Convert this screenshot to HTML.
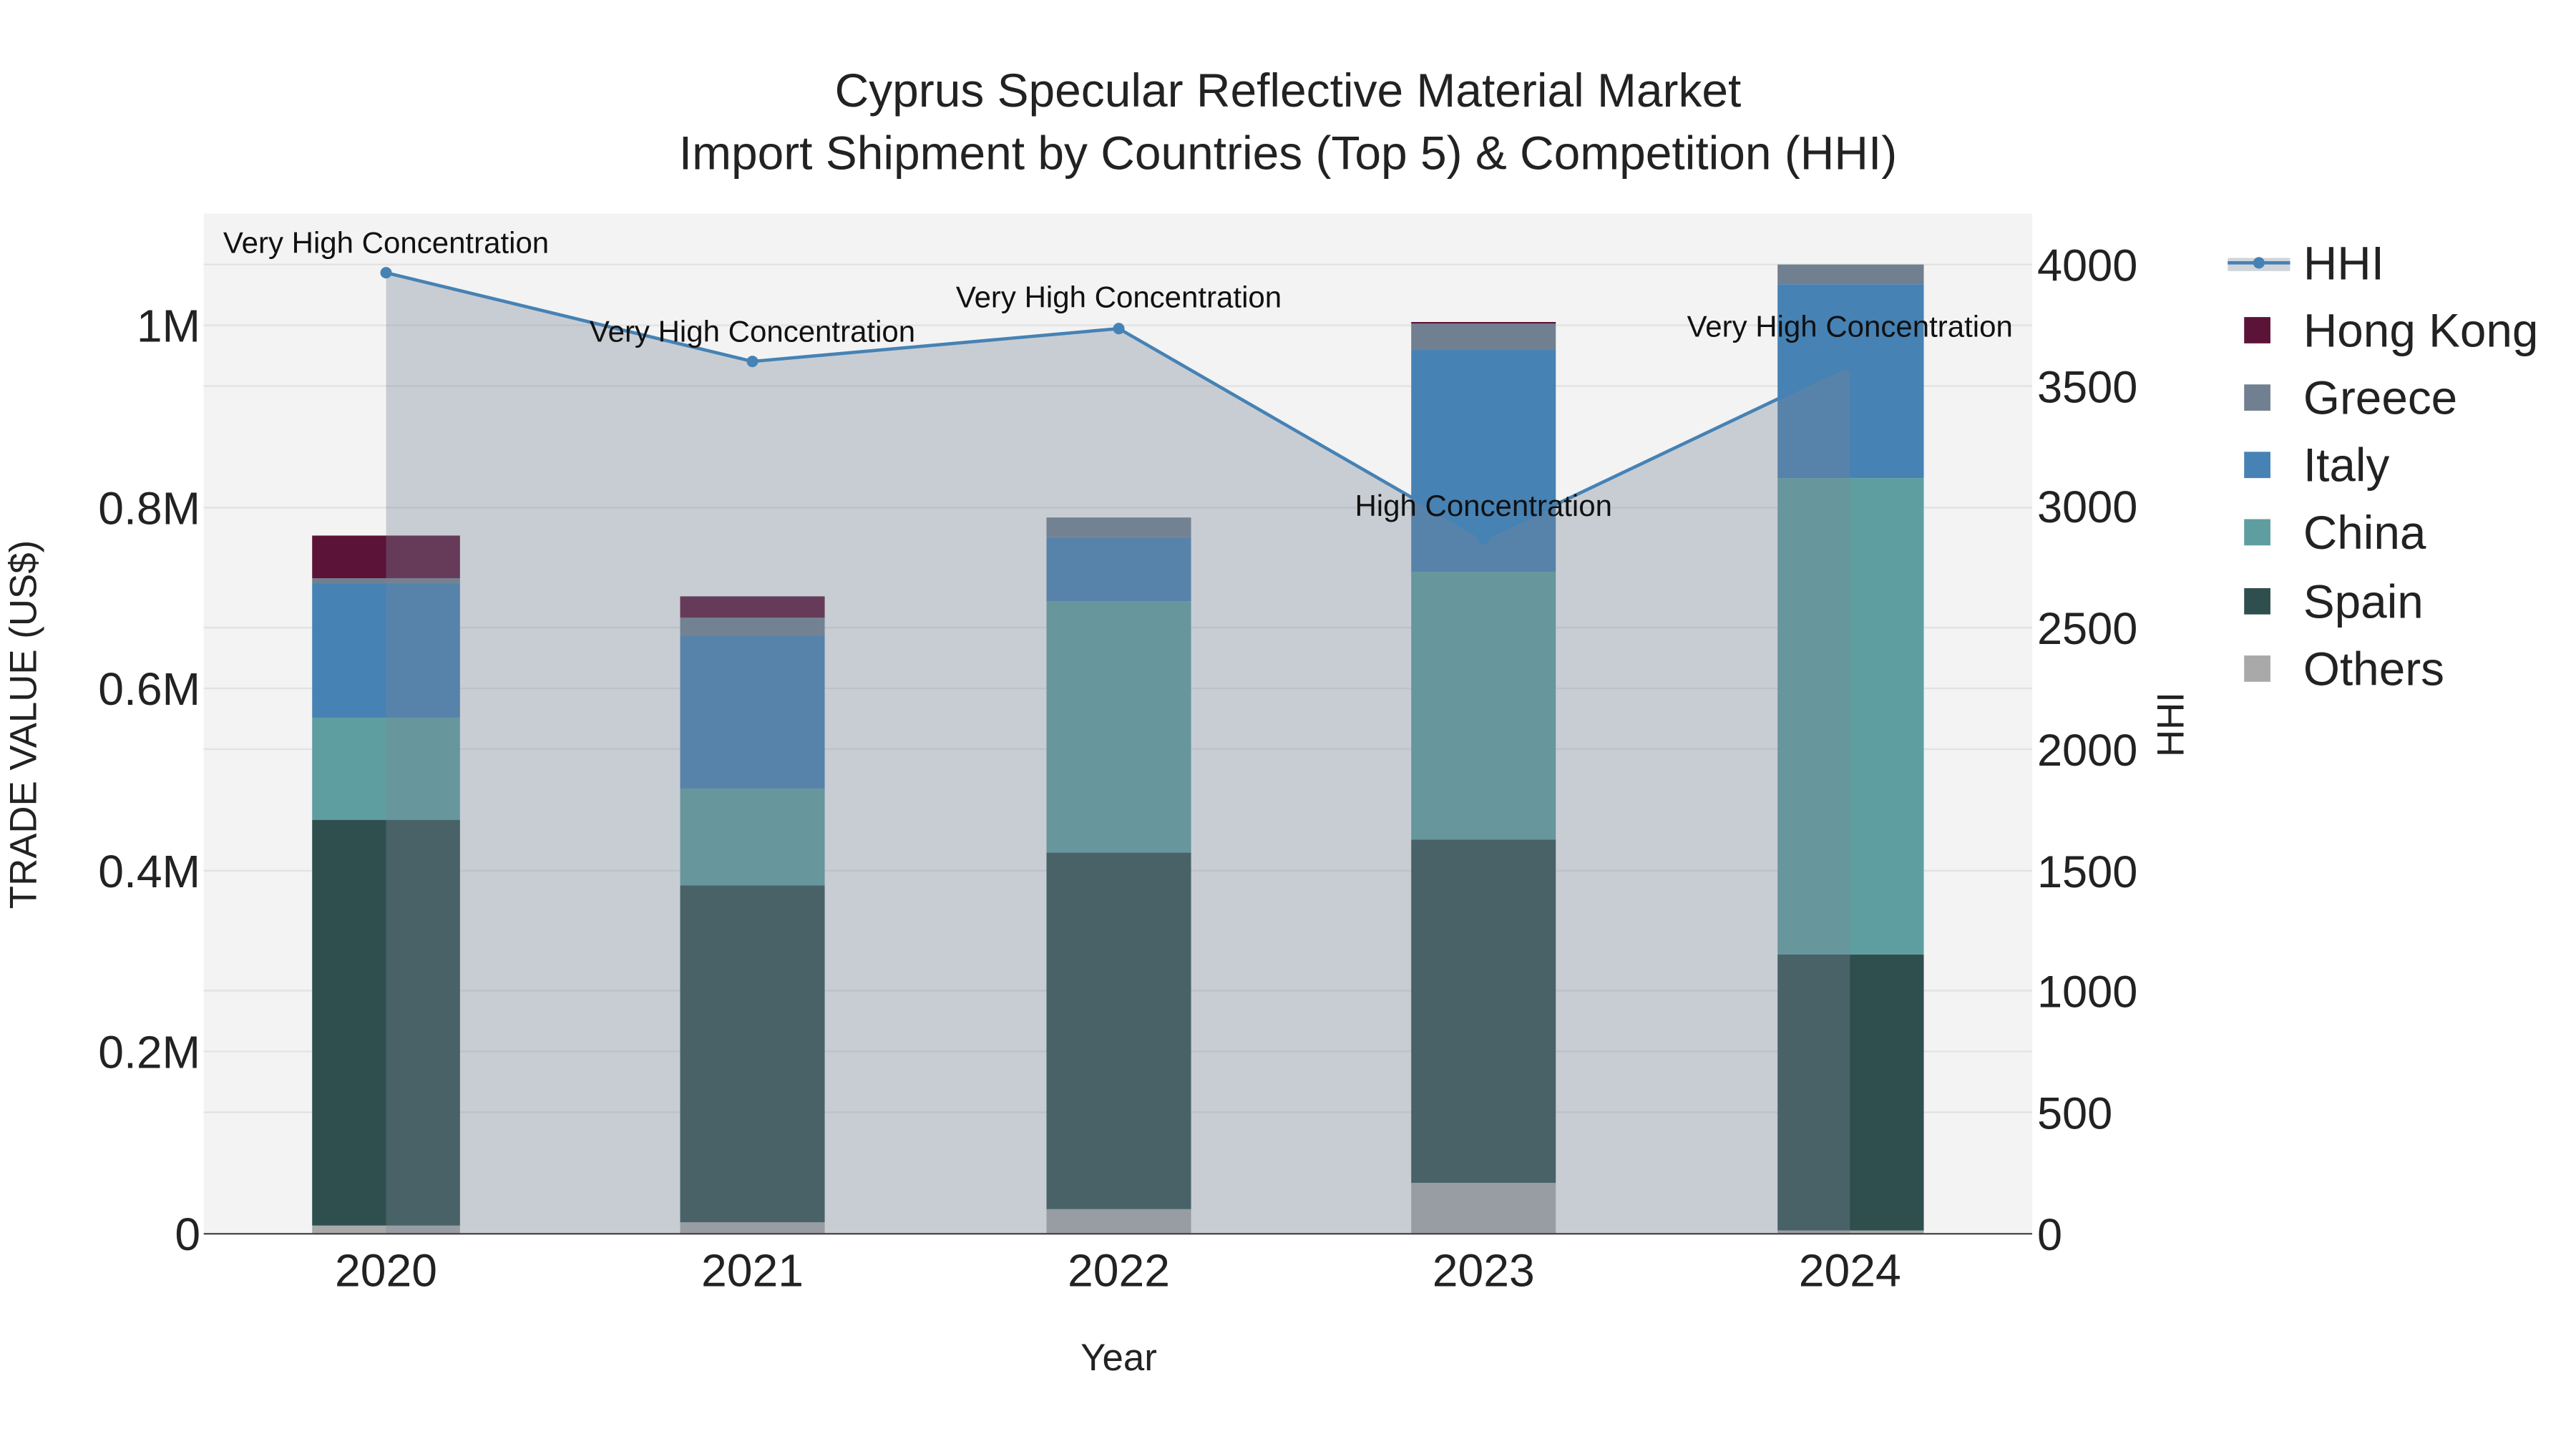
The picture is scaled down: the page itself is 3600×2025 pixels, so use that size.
<!DOCTYPE html>
<html><head><meta charset="utf-8"><style>html,body{margin:0;padding:0;background:#fff}svg{display:block}</style></head>
<body>
<svg width="3600" height="2025" viewBox="0 0 1568 882" xmlns="http://www.w3.org/2000/svg" font-family="Liberation Sans, sans-serif">
<rect width="1568" height="882" fill="#fff"/>
<rect x="124" y="130" width="1113" height="621" fill="#f3f3f3"/>
<g stroke="#e2e2e2" stroke-width="1">
<line x1="124" x2="1237" y1="640" y2="640"/><line x1="124" x2="1237" y1="530" y2="530"/><line x1="124" x2="1237" y1="419" y2="419"/><line x1="124" x2="1237" y1="309" y2="309"/><line x1="124" x2="1237" y1="198" y2="198"/>
<line x1="124" x2="1237" y1="677" y2="677"/><line x1="124" x2="1237" y1="603" y2="603"/><line x1="124" x2="1237" y1="456" y2="456"/><line x1="124" x2="1237" y1="382" y2="382"/><line x1="124" x2="1237" y1="235" y2="235"/><line x1="124" x2="1237" y1="161" y2="161"/>
</g>
<g>
<rect x="190" y="746" width="90" height="5" fill="#a9a9a9"/><rect x="190" y="499" width="90" height="247" fill="#2f4f4f"/><rect x="190" y="437" width="90" height="62" fill="#5f9ea0"/><rect x="190" y="355" width="90" height="82" fill="#4682b4"/><rect x="190" y="352" width="90" height="3" fill="#708090"/><rect x="190" y="326" width="90" height="26" fill="#5c1338"/>
<rect x="414" y="744" width="88" height="7" fill="#a9a9a9"/><rect x="414" y="539" width="88" height="205" fill="#2f4f4f"/><rect x="414" y="480" width="88" height="59" fill="#5f9ea0"/><rect x="414" y="387" width="88" height="93" fill="#4682b4"/><rect x="414" y="376" width="88" height="11" fill="#708090"/><rect x="414" y="363" width="88" height="13" fill="#5c1338"/>
<rect x="637" y="736" width="88" height="15" fill="#a9a9a9"/><rect x="637" y="519" width="88" height="217" fill="#2f4f4f"/><rect x="637" y="366" width="88" height="153" fill="#5f9ea0"/><rect x="637" y="327" width="88" height="39" fill="#4682b4"/><rect x="637" y="315" width="88" height="12" fill="#708090"/>
<rect x="859" y="720" width="88" height="31" fill="#a9a9a9"/><rect x="859" y="511" width="88" height="209" fill="#2f4f4f"/><rect x="859" y="348" width="88" height="163" fill="#5f9ea0"/><rect x="859" y="213" width="88" height="135" fill="#4682b4"/><rect x="859" y="197" width="88" height="16" fill="#708090"/><rect x="859" y="196" width="88" height="1" fill="#5c1338"/>
<rect x="1082" y="749" width="89" height="2" fill="#a9a9a9"/><rect x="1082" y="581" width="89" height="168" fill="#2f4f4f"/><rect x="1082" y="291" width="89" height="290" fill="#5f9ea0"/><rect x="1082" y="173" width="89" height="118" fill="#4682b4"/><rect x="1082" y="161" width="89" height="12" fill="#708090"/>
</g>
<polygon points="235,751 235,166 458,220 681,200 903,328 1126,222 1126,751" fill="rgba(119,136,153,0.35)"/>
<polyline points="235,166 458,220 681,200 903,328 1126,222" fill="none" stroke="#4682b4" stroke-width="2"/>
<g fill="#4682b4"><circle cx="235" cy="166" r="3.5"/><circle cx="458" cy="220" r="3.5"/><circle cx="681" cy="200" r="3.5"/><circle cx="903" cy="328" r="3.5"/><circle cx="1126" cy="222" r="3.5"/></g>
<line x1="124" x2="1237" y1="751" y2="751" stroke="#444" stroke-width="1"/>
<g font-size="18.3" text-anchor="middle" fill="#111">
<text x="235" y="154">Very High Concentration</text>
<text x="458" y="208">Very High Concentration</text>
<text x="681" y="187">Very High Concentration</text>
<text x="903" y="314">High Concentration</text>
<text x="1126" y="205">Very High Concentration</text>
</g>
<g text-anchor="middle" fill="#222" font-size="28.7">
<text x="784" y="65">Cyprus Specular Reflective Material Market</text>
<text x="784" y="103">Import Shipment by Countries (Top 5) &amp; Competition (HHI)</text>
</g>
<g font-size="28" text-anchor="end" fill="#222">
<text x="122" y="761">0</text><text x="122" y="650">0.2M</text><text x="122" y="540">0.4M</text><text x="122" y="429">0.6M</text><text x="122" y="319">0.8M</text><text x="122" y="208">1M</text>
</g>
<g font-size="27.5" text-anchor="start" fill="#222">
<text x="1240" y="761">0</text><text x="1240" y="687">500</text><text x="1240" y="613">1000</text><text x="1240" y="540">1500</text><text x="1240" y="466">2000</text><text x="1240" y="392">2500</text><text x="1240" y="318">3000</text><text x="1240" y="245">3500</text><text x="1240" y="171">4000</text>
</g>
<g font-size="28" text-anchor="middle" fill="#222">
<text x="235" y="783">2020</text><text x="458" y="783">2021</text><text x="681" y="783">2022</text><text x="903" y="783">2023</text><text x="1126" y="783">2024</text>
</g>
<text x="681" y="834" font-size="23" text-anchor="middle" fill="#222">Year</text>
<text transform="translate(22,441) rotate(-90)" font-size="23" text-anchor="middle" fill="#222">TRADE VALUE (US$)</text>
<text transform="translate(1329,441) rotate(-90)" font-size="23" text-anchor="middle" fill="#222">HHI</text>
<rect x="1356" y="157" width="38" height="8" fill="rgba(119,136,153,0.35)"/>
<line x1="1356" x2="1394" y1="160" y2="160" stroke="#4682b4" stroke-width="2"/><circle cx="1375" cy="160" r="3.5" fill="#4682b4"/>
<g font-size="28.6" fill="#222">
<text x="1402" y="170">HHI</text>
<text x="1402" y="211">Hong Kong</text>
<text x="1402" y="252">Greece</text>
<text x="1402" y="293">Italy</text>
<text x="1402" y="334">China</text>
<text x="1402" y="376">Spain</text>
<text x="1402" y="417">Others</text>
</g>
<rect x="1366" y="193" width="16" height="16" fill="#5c1338"/>
<rect x="1366" y="234" width="16" height="16" fill="#708090"/>
<rect x="1366" y="275" width="16" height="16" fill="#4682b4"/>
<rect x="1366" y="316" width="16" height="16" fill="#5f9ea0"/>
<rect x="1366" y="358" width="16" height="16" fill="#2f4f4f"/>
<rect x="1366" y="399" width="16" height="16" fill="#a9a9a9"/>
</svg>
</body></html>
